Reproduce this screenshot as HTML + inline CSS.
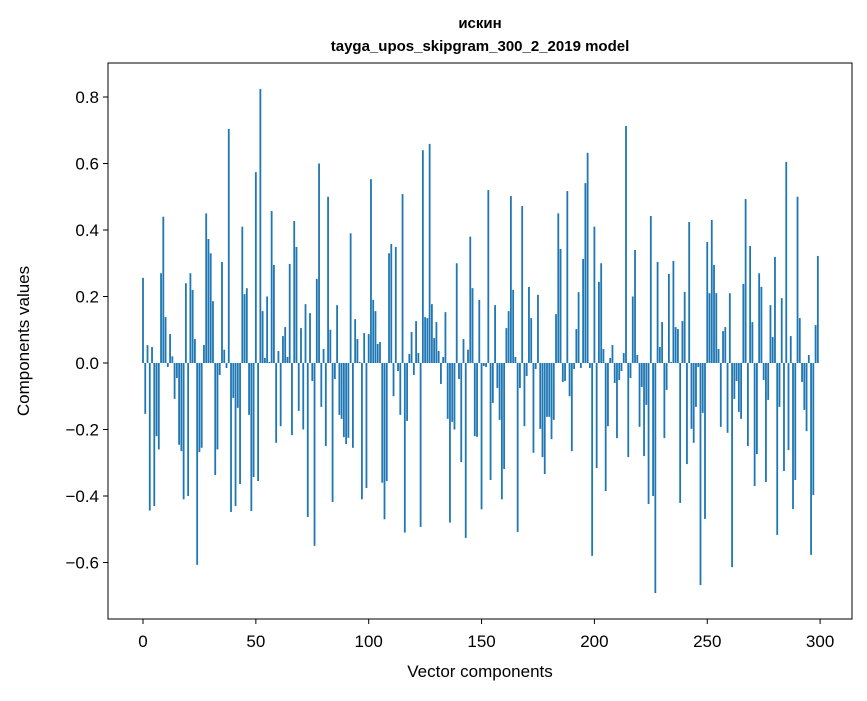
<!DOCTYPE html>
<html><head><meta charset="utf-8"><style>
body{margin:0;background:#fff}
svg text{font-family:"Liberation Sans","DejaVu Sans",sans-serif;fill:#000}
</style></head><body>
<svg id="chart" width="867" height="696" viewBox="0 0 867 696" xmlns="http://www.w3.org/2000/svg">
<rect x="0" y="0" width="867" height="696" fill="#fff"/>
<text x="480" y="28" text-anchor="middle" font-size="15" font-weight="bold">искин</text>
<text x="480" y="51" text-anchor="middle" font-size="15" font-weight="bold">tayga_upos_skipgram_300_2_2019 model</text>
<g id="bars"></g>
<g id="xaxis"></g>
<g id="yaxis"></g>
<rect x="108" y="63" width="744" height="556" fill="none" stroke="#000" stroke-width="1"/>
<text x="480" y="677" text-anchor="middle" font-size="17">Vector components</text>
<text transform="translate(29,341) rotate(-90)" text-anchor="middle" font-size="17">Components values</text>
</svg>
<script>
const values = [
0.256,-0.153,0.054,-0.444,0.048,-0.43,-0.22,-0.26,0.27,0.44,
0.138,-0.012,0.087,0.02,-0.108,-0.045,-0.246,-0.265,-0.41,0.24,
-0.4,0.27,0.22,0.072,-0.607,-0.268,-0.255,0.054,0.45,0.373,
0.33,0.186,-0.337,-0.26,-0.036,0.304,0.04,-0.015,0.704,-0.448,
-0.105,-0.43,-0.135,-0.364,0.41,0.207,0.225,-0.156,-0.445,-0.343,
0.574,-0.355,0.824,0.156,0.015,0.2,0.003,0.457,0.295,-0.24,
0.036,-0.19,0.081,0.108,0.018,0.298,-0.217,0.427,0.349,-0.144,
0.105,-0.2,0.177,-0.463,0.15,-0.054,-0.55,0.253,0.6,-0.132,
0.042,-0.25,0.5,0.1,-0.418,-0.048,0.174,-0.156,-0.168,-0.223,
-0.244,-0.225,0.39,-0.255,0.132,0.072,0.003,-0.41,0.09,-0.376,
0.087,0.553,0.19,0.156,0.057,0.063,-0.36,-0.47,-0.355,0.33,
0.358,-0.1,0.349,-0.024,-0.156,0.508,-0.51,-0.174,0.027,0.093,
-0.036,0.126,0.03,-0.493,0.64,0.138,0.135,0.659,0.177,0.075,
0.123,0.036,-0.063,0.018,0.153,-0.168,-0.48,-0.177,-0.2,0.3,
-0.048,-0.298,0.072,-0.526,0.04,0.38,0.225,-0.22,-0.222,0.19,
-0.44,-0.009,-0.012,0.52,-0.352,-0.12,0.174,-0.075,-0.171,-0.41,
-0.319,0.105,0.156,0.502,0.22,0.018,-0.508,-0.075,0.472,-0.19,
-0.039,0.229,0.135,-0.27,-0.018,0.205,-0.198,-0.283,-0.334,-0.162,
-0.162,-0.229,-0.171,0.147,0.45,0.343,-0.057,-0.054,0.517,-0.1,
-0.265,-0.018,0.102,0.213,-0.015,0.313,0.541,0.632,-0.015,-0.58,
0.41,-0.316,0.244,0.3,0.042,-0.385,-0.19,0.015,0.054,-0.06,
-0.226,-0.051,-0.024,0.03,0.713,-0.283,-0.045,0.2,0.34,0.024,
-0.192,-0.072,-0.28,-0.126,-0.424,0.442,-0.4,-0.692,0.304,0.048,
0.123,-0.226,-0.081,0.268,0.003,0.307,0.108,0.102,-0.421,0.126,
0.214,-0.304,0.424,-0.198,-0.24,-0.132,-0.012,-0.668,-0.15,-0.469,
0.364,0.21,0.43,0.295,0.21,0.042,-0.192,0.096,0.108,-0.21,
0.21,-0.614,-0.108,-0.054,-0.147,-0.168,0.238,0.493,-0.25,0.352,
0.123,-0.37,-0.274,0.27,0.229,-0.051,-0.358,-0.111,0.174,0.078,
0.319,-0.517,-0.132,0.195,-0.325,0.605,-0.262,0.081,-0.439,-0.352,
0.5,0.135,-0.057,-0.141,-0.205,0.024,-0.577,-0.397,0.114,0.322
];
const xTicks = [0,50,100,150,200,250,300];
const yTicks = [-0.6,-0.4,-0.2,0.0,0.2,0.4,0.6,0.8];
const yTickLabels = ["\u22120.6","\u22120.4","\u22120.2","0.0","0.2","0.4","0.6","0.8"];

const NS="http://www.w3.org/2000/svg";
function xs(v){return 143+v*2.257;}
function ys(v){return 363-v*332.5;}
const bars=document.getElementById('bars');
values.forEach((v,i)=>{
  const r=document.createElementNS(NS,'rect');
  const y0=ys(0), y1=ys(v);
  r.setAttribute('x',xs(i-0.4));
  r.setAttribute('width',0.8*2.257);
  r.setAttribute('y',Math.min(y0,y1));
  r.setAttribute('height',Math.abs(y1-y0));
  r.setAttribute('fill','#1f77b4');
  
  
  bars.appendChild(r);
});
const xa=document.getElementById('xaxis');
xTicks.forEach(t=>{
  const l=document.createElementNS(NS,'line');
  l.setAttribute('x1',xs(t));l.setAttribute('x2',xs(t));
  l.setAttribute('y1',619);l.setAttribute('y2',624);
  l.setAttribute('stroke','#000');
  
  
  xa.appendChild(l);
  const tx=document.createElementNS(NS,'text');
  tx.setAttribute('x',xs(t));tx.setAttribute('y',647);
  tx.setAttribute('text-anchor','middle');tx.setAttribute('font-size','17');
  tx.textContent=String(t);
  
  
  xa.appendChild(tx);
});
const ya=document.getElementById('yaxis');
yTicks.forEach((t,i)=>{
  const l=document.createElementNS(NS,'line');
  l.setAttribute('x1',103);l.setAttribute('x2',108);
  l.setAttribute('y1',ys(t));l.setAttribute('y2',ys(t));
  l.setAttribute('stroke','#000');
  
  
  ya.appendChild(l);
  const tx=document.createElementNS(NS,'text');
  tx.setAttribute('x',99);tx.setAttribute('y',ys(t)+6);
  tx.setAttribute('text-anchor','end');tx.setAttribute('font-size','17');
  tx.textContent=yTickLabels[i];
  
  
  ya.appendChild(tx);
});
</script>
</body></html>
